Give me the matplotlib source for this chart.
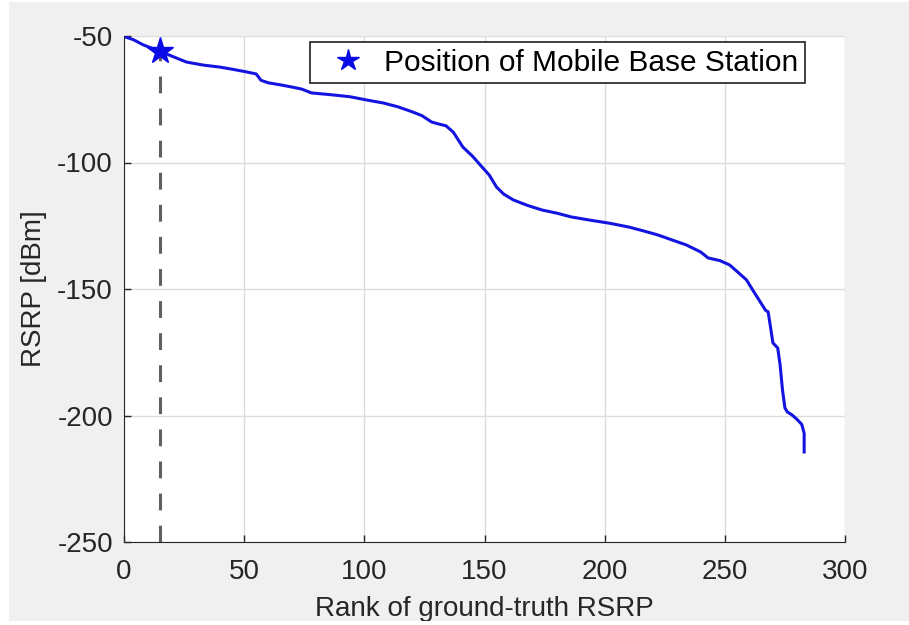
import matplotlib
matplotlib.use("Agg")
import matplotlib.pyplot as plt
from matplotlib.patches import Rectangle

# ranked RSRP curve, read point by point
rank = [1, 4, 8, 12, 15, 20, 26, 33, 40, 46, 51, 55, 57, 60, 65, 70, 74, 78,
        86, 94, 101, 108, 114, 120, 124, 128, 131, 134, 137, 141, 145, 149,
        152, 155, 158, 162, 168, 174, 180, 186, 194, 202, 210, 216, 222, 228,
        234, 240, 243, 248, 252, 255, 259, 262, 265, 267, 268, 269, 270, 272,
        273, 274, 275, 276, 278, 280, 282, 283, 283]
rsrp = [-50.5, -51.5, -53.5, -55, -56, -58, -60.3, -61.5, -62.3, -63.3, -64.2,
        -65, -67.5, -68.5, -69.3, -70.2, -71, -72.5, -73.2, -74, -75.3, -76.5,
        -78, -80, -81.5, -84, -84.8, -85.5, -88, -93.9, -97.5, -101.8, -105,
        -109.7, -112.5, -114.8, -117, -118.8, -120, -121.5, -122.8, -124,
        -125.5, -127, -128.6, -130.6, -132.6, -135.4, -137.7, -138.8, -140.5,
        -143, -146.4, -151, -155.5, -158.5, -159, -165, -171.3, -173.3, -180,
        -190, -197, -198.6, -199.8, -201.5, -203.5, -207, -214.4]

bs_rank = 15
bs_rsrp = -56

tick_x = [0, 50, 100, 150, 200, 250, 300]
tick_y = [-250, -200, -150, -100, -50]

plt.rcParams['font.family'] = ['Liberation Sans', 'DejaVu Sans']
plt.rcParams['axes.unicode_minus'] = False

fig = plt.figure(figsize=(9.09, 6.25), dpi=100, facecolor='white')
# gray panel behind the axes, as in a MATLAB figure window
fig.patches.append(Rectangle((9 / 909, 4 / 625), 900 / 909, 619 / 625,
                             transform=fig.transFigure, facecolor='#f0f0f0',
                             edgecolor='none', zorder=-10))
ax = fig.add_axes([124 / 909, 83 / 625, 721 / 909, 506 / 625])
ax.set_facecolor('white')

ax.plot(rank, rsrp, color='#1414e0', linewidth=2.2, zorder=3)
ax.plot([bs_rank, bs_rank], [-250, bs_rsrp], color='#606060', linewidth=2.2,
        linestyle=(0, (5.5, 5)), zorder=2)
ax.plot([bs_rank], [bs_rsrp], linestyle='none', marker='*', markersize=20,
        color='#0a0ae6', markeredgecolor='#0a0ae6',
        label='Position of Mobile Base Station', zorder=4)

ax.set_xlim(0, 300)
ax.set_ylim(-250, -50)
ax.set_xticks(tick_x)
ax.set_yticks(tick_y)
ax.grid(True, color='#dcdcdc', linewidth=1)
ax.set_axisbelow(True)
ax.tick_params(direction='in', length=5, width=1, colors='#262626',
               labelsize=20, top=False, right=False)
ax.tick_params(axis='x', pad=12)
ax.tick_params(axis='y', pad=8)
for side in ['top', 'right']:
    ax.spines[side].set_visible(False)
for side in ['left', 'bottom']:
    ax.spines[side].set_color('#262626')

ax.set_xlabel('Rank of ground-truth RSRP', fontsize=20, color='#262626',
              labelpad=8)
ax.set_ylabel('RSRP [dBm]', fontsize=20, color='#262626', labelpad=7)

leg = ax.legend(loc='upper right', bbox_to_anchor=(0.9445, 0.988),
                borderaxespad=0, fontsize=21.5, fancybox=False, framealpha=1,
                edgecolor='#202020', markerscale=0.8, handletextpad=0.2,
                borderpad=0.22, handlelength=2.05)
leg.get_frame().set_linewidth(1.2)

# white strip along the bottom edge clips the label descenders
fig.patches.append(Rectangle((0, 0), 1, 4 / 625, transform=fig.transFigure,
                             facecolor='white', edgecolor='none', zorder=10))

fig.savefig('out.png', dpi=100, facecolor=fig.get_facecolor())
